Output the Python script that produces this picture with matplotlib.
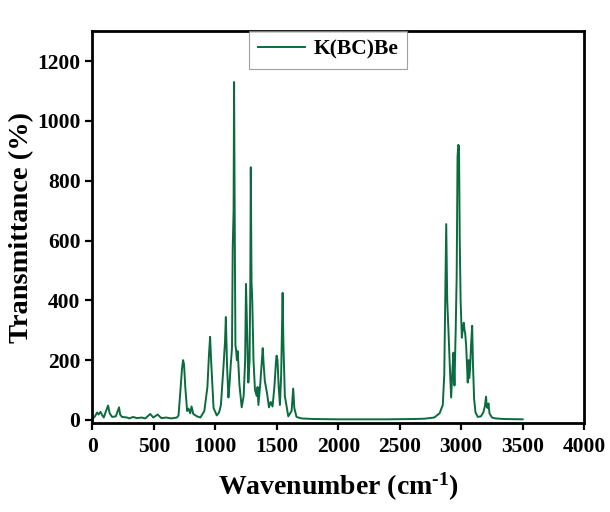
import matplotlib
matplotlib.use("Agg")
import matplotlib.pyplot as plt

# Spectrum vertices
wavenumber = [0, 20, 38, 50, 65, 80, 92, 110, 127, 140, 160, 190, 216, 225, 240, 282, 300, 330, 360, 400,
              430, 470, 495, 530, 560, 600, 640, 687, 700, 714, 728, 737, 745, 755, 770, 781, 795, 806, 820,
              850, 878, 910, 935, 948, 957, 965, 985, 1011, 1030, 1045, 1066, 1078, 1085, 1095, 1106, 1115,
              1124, 1135, 1141, 1148, 1152, 1158, 1163, 1168, 1175, 1182, 1195, 1214, 1230, 1242, 1249, 1256,
              1268, 1278, 1284, 1288, 1294, 1300, 1310, 1322, 1336, 1343, 1350, 1365, 1378, 1385, 1392, 1402,
              1420, 1436, 1450, 1465, 1480, 1492, 1498, 1505, 1515, 1525, 1535, 1542, 1547, 1553, 1565, 1593,
              1620, 1633, 1642, 1660, 1700, 1800, 2000, 2200, 2400, 2600, 2700, 2780, 2824, 2850, 2862, 2870,
              2878, 2886, 2897, 2910, 2918, 2930, 2937, 2945, 2955, 2963, 2970, 2976, 2982, 2988, 2995, 3005,
              3014, 3021, 3027, 3032, 3040, 3053, 3060, 3065, 3072, 3080, 3089, 3096, 3105, 3116, 3135, 3160,
              3180, 3192, 3202, 3208, 3214, 3222, 3230, 3250, 3280, 3350, 3500]
transmittance = [3, 12, 25, 18, 27, 15, 8, 30, 48, 22, 10, 12, 42, 18, 10, 8, 5, 10, 6, 8,
                 5, 20, 8, 18, 6, 8, 5, 8, 15, 90, 170, 200, 185, 110, 30, 38, 22, 45, 20,
                 12, 8, 30, 110, 220, 278, 200, 40, 15, 25, 50, 180, 260, 344, 180, 75, 120,
                 180, 240, 575, 700, 1130, 600, 250, 235, 200, 230, 120, 42, 80, 200, 455, 330,
                 125, 200, 460, 845, 460, 400, 200, 100, 80, 110, 50, 120, 200, 240, 190, 130,
                 90, 42, 60, 45, 110, 190, 215, 200, 110, 50, 150, 300, 425, 260, 80, 12,
                 30, 105, 40, 10, 5, 3, 2, 2, 2, 3, 4, 8, 22, 50, 150, 400,
                 655, 400, 290, 150, 75, 180, 225, 115, 300, 480, 880, 920, 915, 600, 400, 275,
                 310, 325, 300, 290, 250, 125, 200, 140, 170, 250, 315, 180, 70, 25, 10, 12,
                 25, 45, 78, 45, 40, 55, 22, 8, 5, 3, 2]
series_label = "K(BC)Be"
x_ticks = [0, 500, 1000, 1500, 2000, 2500, 3000, 3500, 4000]
y_ticks = [0, 200, 400, 600, 800, 1000, 1200]

plt.rcParams['font.family'] = ['Liberation Serif', 'DejaVu Serif']
plt.rcParams['font.weight'] = 'bold'
plt.rcParams['mathtext.fontset'] = 'custom'
plt.rcParams['mathtext.rm'] = 'Liberation Serif:bold'
plt.rcParams['mathtext.bf'] = 'Liberation Serif:bold'
plt.rcParams['mathtext.it'] = 'Liberation Serif:bold'
plt.rcParams['axes.unicode_minus'] = False

fig = plt.figure(figsize=(6.1, 5.12), dpi=100)
ax = fig.add_axes([0.150, 0.174, 0.808, 0.765])
ax.plot(wavenumber, transmittance, color='#0B6B3E', lw=1.4, label=series_label)

ax.set_xlim(-8, 4002)
ax.set_ylim(-10, 1300)
ax.set_xticks(x_ticks)
ax.set_yticks(y_ticks)
ax.tick_params(axis='both', direction='out', length=5, width=1.6, labelsize=15.5, pad=3)
ax.tick_params(axis='x', pad=5)
for lab in ax.get_xticklabels() + ax.get_yticklabels():
    lab.set_fontweight('bold')
for sp in ax.spines.values():
    sp.set_linewidth(2)

ax.set_xlabel(r"Wavenumber (cm$^{\mathbf{\text{-}1}}$)", fontsize=20, fontweight='bold', labelpad=10)
ax.set_ylabel("Transmittance (%)", fontsize=20.5, fontweight='bold', labelpad=2)

leg = ax.legend(loc='upper center', bbox_to_anchor=(0.48, 1.0), frameon=True, fancybox=False,
                prop={'weight': 'bold', 'size': 15.5}, handlelength=2.2,
                borderpad=0.4, borderaxespad=0.0, handletextpad=0.4)
leg.get_frame().set_edgecolor('#888888')
leg.get_frame().set_linewidth(0.8)

fig.savefig("out.png", dpi=100)
